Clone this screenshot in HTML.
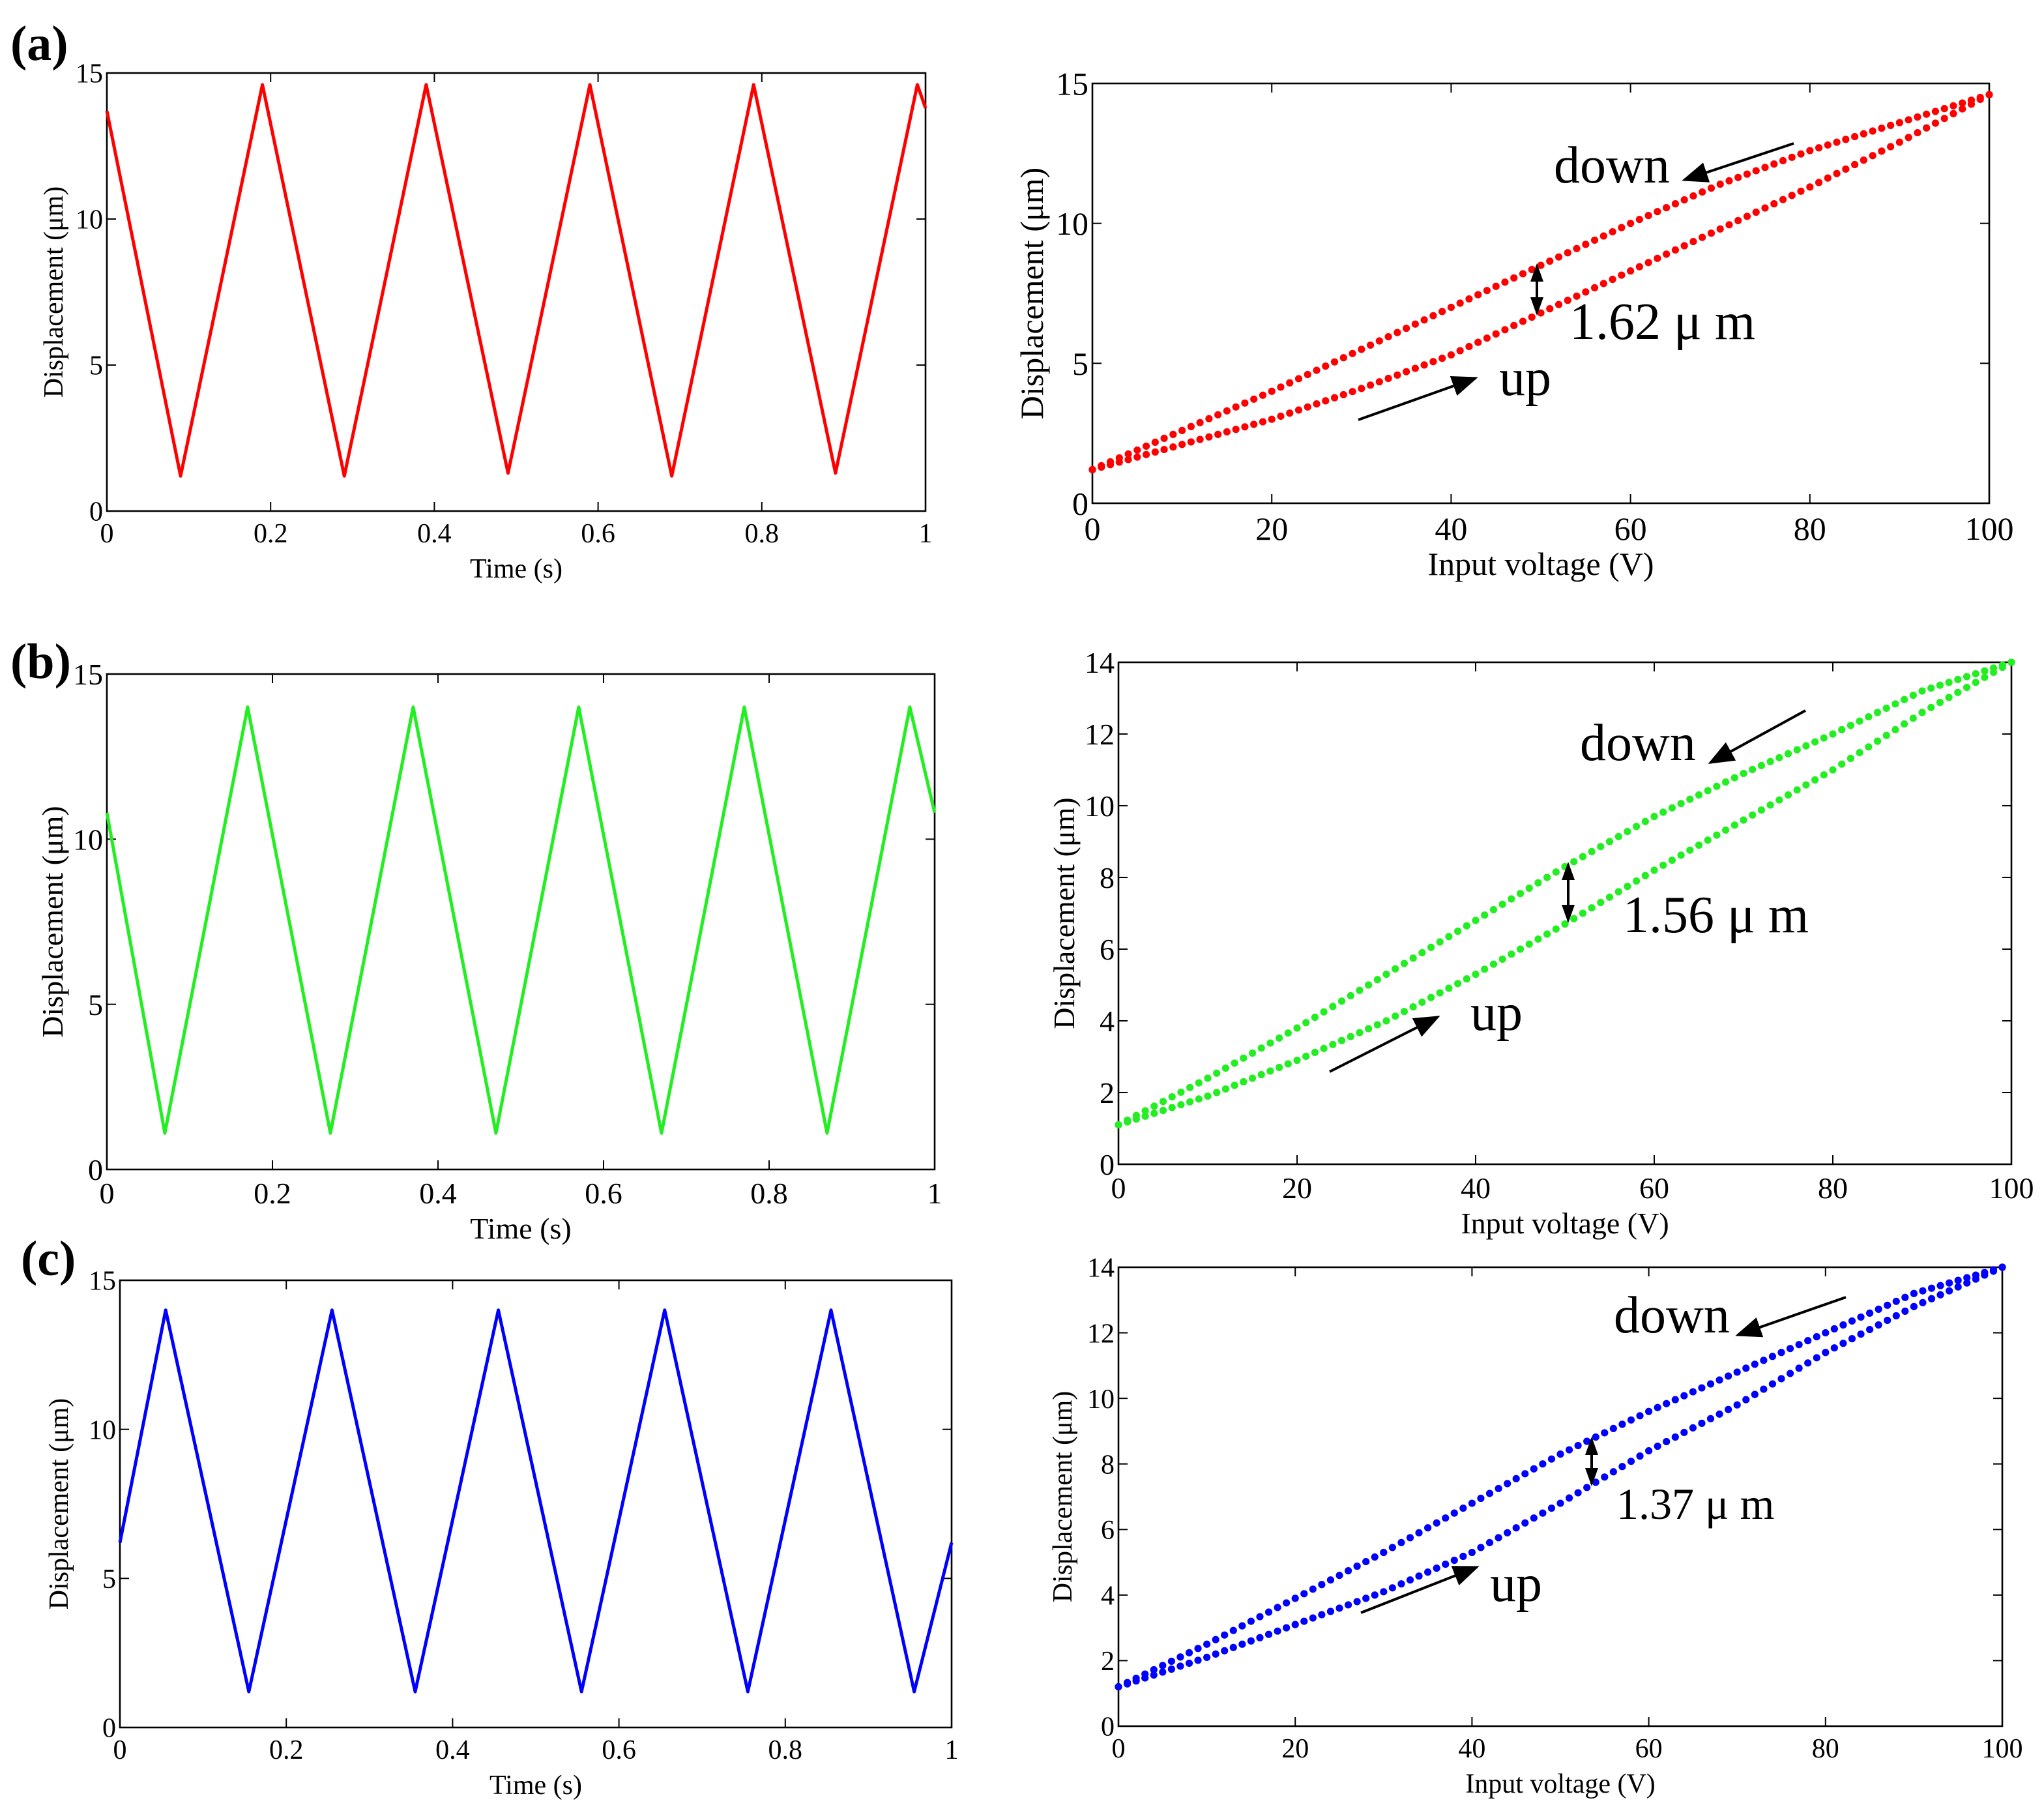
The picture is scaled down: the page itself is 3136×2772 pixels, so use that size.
<!DOCTYPE html>
<html><head><meta charset="utf-8"><style>
html,body{margin:0;padding:0;background:#fff;}
svg{display:block;}
text{font-family:"Liberation Serif",serif;fill:#000;}
</style></head><body>
<svg id="fig" width="3136" height="2772" viewBox="0 0 1568 1386" xmlns="http://www.w3.org/2000/svg">
<defs><marker id="ah" markerWidth="14" markerHeight="10" refX="12" refY="5" orient="auto-start-reverse" markerUnits="userSpaceOnUse"><path d="M0,0 L14,5 L0,10 z" fill="#000"/></marker>
<marker id="ah2" markerWidth="20" markerHeight="16" refX="18" refY="8" orient="auto" markerUnits="userSpaceOnUse"><path d="M0,0 L20,8 L0,16 z" fill="#000"/></marker></defs>
<text x="8" y="46" font-size="38" font-weight="bold">(a)</text>
<text x="8" y="520" font-size="38" font-weight="bold">(b)</text>
<text x="16" y="978" font-size="38" font-weight="bold">(c)</text>
</svg>
<script>
// time-series keyframes (time s, displacement um)
const timeA = [0,0.09,0.19,0.29,0.39,0.49,0.59,0.69,0.79,0.89,0.99,1];
const dispA = [13.7,1.2,14.6,1.2,14.6,1.3,14.6,1.2,14.6,1.3,14.6,13.8];
const timeB = [0,0.07,0.17,0.27,0.37,0.47,0.57,0.67,0.77,0.87,0.97,1];
const dispB = [10.8,1.1,14,1.1,14,1.1,14,1.1,14,1.1,14,10.8];
const timeC = [0,0.055,0.155,0.255,0.355,0.455,0.555,0.655,0.755,0.855,0.955,1];
const dispC = [6.2,14,1.2,14,1.2,14,1.2,14,1.2,14,1.2,6.2];
// hysteresis (input voltage V vs displacement um)
const volts = [0,10,20,30,40,50,60,70,80,90,100];
const upA = [1.2,2.1,3.0,4.1,5.3,6.8,8.3,9.8,11.3,12.9,14.6];
const downA = [1.2,2.6,4.0,5.5,7.0,8.5,10.0,11.4,12.6,13.6,14.6];
const upB = [1.1,1.9,2.9,4.0,5.3,6.7,8.2,9.6,11.0,12.6,14.0];
const downB = [1.1,2.4,3.8,5.3,6.8,8.3,9.7,10.9,12.0,13.2,14.0];
const upC = [1.2,2.1,3.1,4.1,5.3,6.8,8.4,9.8,11.4,12.8,14.0];
const downC = [1.2,2.5,3.9,5.3,6.8,8.3,9.6,10.8,12.0,13.2,14.0];
const tTicks = [0,0.2,0.4,0.6,0.8,1];
const tTickLabels = ["0","0.2","0.4","0.6","0.8","1"];
const vTicks = [0,20,40,60,80,100];
const y15Ticks = [0,5,10,15];
const y14Ticks = [0,2,4,6,8,10,12,14];

const svg = document.getElementById('fig');
const NS = 'http://www.w3.org/2000/svg';
function mk(tag, attrs, parent){
  const e = document.createElementNS(NS, tag);
  for (const k in attrs) e.setAttribute(k, attrs[k]);
  (parent||svg).appendChild(e);
  return e;
}
function interp(xs, ys, x){
  for (let i=0;i<xs.length-1;i++){ if (x<=xs[i+1]){ const f=(x-xs[i])/(xs[i+1]-xs[i]); return ys[i]+f*(ys[i+1]-ys[i]); } }
  return ys[ys.length-1];
}
function panel(p){
  const g = mk('g', {});
  
  
  const sx = v => p.x0 + (v-p.xmin)/(p.xmax-p.xmin)*(p.x1-p.x0);
  const sy = v => p.y1 - (v-p.ymin)/(p.ymax-p.ymin)*(p.y1-p.y0);
  const frame = mk('rect', {x:p.x0,y:p.y0,width:p.x1-p.x0,height:p.y1-p.y0,fill:'none',stroke:'#000','stroke-width':1.3}, g);
  
  
  p.xt.forEach((v,i)=>{
    const X=sx(v);
    mk('line',{x1:X,y1:p.y1,x2:X,y2:p.y1-7,stroke:'#000','stroke-width':1},g);
    mk('line',{x1:X,y1:p.y0,x2:X,y2:p.y0+7,stroke:'#000','stroke-width':1},g);
    const t = mk('text',{x:X,y:p.y1+p.fs+3,'font-size':p.fs,'text-anchor':'middle'},g);
    
    
    t.textContent = p.xl[i];
  });
  p.yt.forEach(v=>{
    const Y=sy(v);
    mk('line',{x1:p.x0,y1:Y,x2:p.x0+7,y2:Y,stroke:'#000','stroke-width':1},g);
    mk('line',{x1:p.x1,y1:Y,x2:p.x1-7,y2:Y,stroke:'#000','stroke-width':1},g);
    const t = mk('text',{x:p.x0-3,y:Y+p.fs*0.35,'font-size':p.fs,'text-anchor':'end'},g);
    
    
    t.textContent = String(v);
  });
  const xl = mk('text',{x:(p.x0+p.x1)/2,y:p.y1+p.fs+30,'font-size':p.fs,'text-anchor':'middle'},g);
  
  
  xl.textContent = p.xlabel;
  const yx = p.x0-p.ylOff, yy=(p.y0+p.y1)/2;
  const yl = mk('text',{x:yx,y:yy,'font-size':p.fs,'text-anchor':'middle',transform:`rotate(-90 ${yx} ${yy})`},g);
  
  
  yl.textContent = 'Displacement (\u03bcm)';
  if (p.tx){
    let d='';
    const n=600;
    for(let i=0;i<=n;i++){const t=i/n; const v=interp(p.tx,p.ty,t); d+=(i?'L':'M')+sx(t).toFixed(2)+','+sy(v).toFixed(2);}
    const path = mk('path',{d:d,fill:'none',stroke:p.color,'stroke-width':2.5,'stroke-linejoin':'round'},g);
    
    
  } else {
    [[p.up,'up-branch'],[p.down,'down-branch']].forEach(([arr,nm])=>{
      const sg = mk('g',{fill:p.color},g);
      
      
      for(let v=0;v<=100;v+=1){
        mk('circle',{cx:sx(v),cy:sy(interp(volts,arr,v)),r:2.8},sg);
      }
    });
  }
  return g;
}
function ann(a){
  const g = mk('g',{});
  
  
  const d = mk('text',{x:a.dx,y:a.dy,'font-size':40},g); d.textContent='down';
   
  mk('line',{x1:a.da[0],y1:a.da[1],x2:a.da[2],y2:a.da[3],stroke:'#000','stroke-width':2,'marker-end':'url(#ah2)'},g);
  const u = mk('text',{x:a.ux,y:a.uy,'font-size':40},g); u.textContent='up';
   
  mk('line',{x1:a.ua[0],y1:a.ua[1],x2:a.ua[2],y2:a.ua[3],stroke:'#000','stroke-width':2,'marker-end':'url(#ah2)'},g);
  mk('line',{x1:a.bx,y1:a.b0,x2:a.bx,y2:a.b1,stroke:'#000','stroke-width':2,'marker-end':'url(#ah)','marker-start':'url(#ah)'},g);
  const m = mk('text',{x:a.mx,y:a.my,'font-size':a.ms},g); m.textContent=a.mt;
   
}

panel({name:'panel-a-time',x0:82,x1:710,y0:56,y1:392,xmin:0,xmax:1,ymin:0,ymax:15,xt:tTicks,xl:tTickLabels,yt:y15Ticks,fs:21,xlabel:'Time (s)',ylOff:34,tx:timeA,ty:dispA,color:'#ff0000'});
panel({name:'panel-a-hysteresis',x0:838,x1:1526,y0:64,y1:386,xmin:0,xmax:100,ymin:0,ymax:15,xt:vTicks,xl:vTicks.map(String),yt:y15Ticks,fs:25,xlabel:'Input voltage (V)',ylOff:38,up:upA,down:downA,color:'#ff0000'});
panel({name:'panel-b-time',x0:82,x1:717,y0:517,y1:897,xmin:0,xmax:1,ymin:0,ymax:15,xt:tTicks,xl:tTickLabels,yt:y15Ticks,fs:23,xlabel:'Time (s)',ylOff:34,tx:timeB,ty:dispB,color:'#22ee22'});
panel({name:'panel-b-hysteresis',x0:858,x1:1543,y0:508,y1:893,xmin:0,xmax:100,ymin:0,ymax:14,xt:vTicks,xl:vTicks.map(String),yt:y14Ticks,fs:23,xlabel:'Input voltage (V)',ylOff:34,up:upB,down:downB,color:'#22ee22'});
panel({name:'panel-c-time',x0:92,x1:730,y0:982,y1:1325,xmin:0,xmax:1,ymin:0,ymax:15,xt:tTicks,xl:tTickLabels,yt:y15Ticks,fs:21,xlabel:'Time (s)',ylOff:40,tx:timeC,ty:dispC,color:'#0000ff'});
panel({name:'panel-c-hysteresis',x0:858,x1:1536,y0:972,y1:1324,xmin:0,xmax:100,ymin:0,ymax:14,xt:vTicks,xl:vTicks.map(String),yt:y14Ticks,fs:21,xlabel:'Input voltage (V)',ylOff:36,up:upC,down:downC,color:'#0000ff'});

ann({dx:1192,dy:140,da:[1376,110,1292,138],ux:1150,uy:303,ua:[1042,322,1132,290],bx:1179,b0:204,b1:240,mx:1204,my:260,ms:40,mt:'1.62 \u03bc m'});
ann({dx:1212,dy:583,da:[1385,545,1312,585],ux:1128,uy:790,ua:[1020,822,1103,780],bx:1203,b0:663,b1:706,mx:1245,my:715,ms:40,mt:'1.56 \u03bc m'});
ann({dx:1238,dy:1022,da:[1416,995,1333,1024],ux:1143,uy:1228,ua:[1044,1237,1133,1202],bx:1221,b0:1104,b1:1138,mx:1240,my:1165,ms:34,mt:'1.37 \u03bc m'});
</script>
</body></html>
